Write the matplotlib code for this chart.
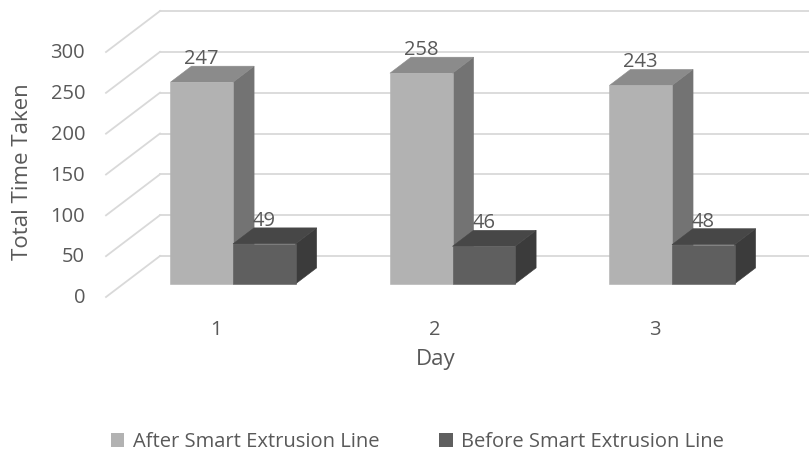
import matplotlib.pyplot as plt
from matplotlib.patches import Polygon, Patch

# chart data
days = ["1", "2", "3"]
after_line = [247, 258, 243]
before_line = [49, 46, 48]
series_names = ["After Smart Extrusion Line", "Before Smart Extrusion Line"]
y_ticks = [0, 50, 100, 150, 200, 250, 300]

# face colours: front, top, side
colours = [("#b2b2b2", "#8b8b8b", "#737373"),
           ("#5f5f5f", "#474747", "#3b3b3b")]
text_col = "#595959"
grid_col = "#d9d9d9"

plt.rcParams['font.family'] = ['Open Sans', 'DejaVu Sans']

# oblique projection: depth 0 = front of floor, 1 = back wall
DX = 0.246
DY = 50.2


def proj(x, v, d):
    return x + DX * d, v + DY * d


fig = plt.figure(figsize=(8.09, 4.55), dpi=100)
ax = fig.add_axes([0, 0, 1, 1])
ax.set_xlim(-0.983, 2.703)
ax.set_ylim(-193.5, 363.7)
ax.axis("off")

x_left = -0.5
x_right = len(days) - 0.5 + 0.3

# back wall gridlines and left wall diagonals
for v in y_ticks:
    p0 = proj(x_left, v, 1)
    p1 = proj(x_right, v, 1)
    ax.plot([p0[0], p1[0]], [p0[1], p1[1]], color=grid_col, lw=1.3, zorder=1)
    q0 = proj(x_left, v, 0)
    ax.plot([q0[0], p0[0]], [q0[1], p0[1]], color=grid_col, lw=1.3, zorder=1)
    ax.text(q0[0] - 0.095, q0[1] - 1.5, str(v), ha="right", va="center",
            fontsize=14.5, color=text_col)

bar_w = 0.285
d_front = 0.32
d_back = 0.71


def draw_bar(x0, value, cols, z):
    x1 = x0 + bar_w
    front = [proj(x0, 0, d_front), proj(x1, 0, d_front),
             proj(x1, value, d_front), proj(x0, value, d_front)]
    top = [proj(x0, value, d_front), proj(x1, value, d_front),
           proj(x1, value, d_back), proj(x0, value, d_back)]
    side = [proj(x1, 0, d_front), proj(x1, 0, d_back),
            proj(x1, value, d_back), proj(x1, value, d_front)]
    for pts, c in ((side, cols[2]), (top, cols[1]), (front, cols[0])):
        ax.add_patch(Polygon(pts, closed=True, facecolor=c, edgecolor=c,
                             lw=0.4, zorder=z))
    # data label
    lx = proj(x0 + bar_w / 2, 0, d_front)[0]
    ly = proj(x0, value, d_back)[1]
    ax.text(lx, ly + 2.5, str(value), ha="center", va="baseline",
            fontsize=14.5, color=text_col, zorder=z + 1)


for i in range(len(days)):
    draw_bar(i - bar_w, after_line[i], colours[0], 3 + 3 * i)
    draw_bar(i, before_line[i], colours[1], 4 + 3 * i)
    ax.text(i, -40, days[i], ha="center", va="center",
            fontsize=14.5, color=text_col)

ax.text((len(days) - 1) / 2, -76, "Day", ha="center", va="center",
        fontsize=16, color=text_col)
fig.text(23 / 809, 1 - 172 / 455, "Total Time Taken", rotation=90,
         ha="center", va="center", fontsize=16, color=text_col)

handles = [Patch(facecolor=colours[0][0], edgecolor="none"),
           Patch(facecolor=colours[1][0], edgecolor="none")]
fig.legend(handles, series_names, loc="center", bbox_to_anchor=(0.516, 0.028),
           ncol=2, frameon=False, fontsize=14.5, labelcolor=text_col,
           handlelength=0.65, handleheight=0.65, handletextpad=0.4,
           columnspacing=3.0)

fig.savefig("out.png", dpi=100)
